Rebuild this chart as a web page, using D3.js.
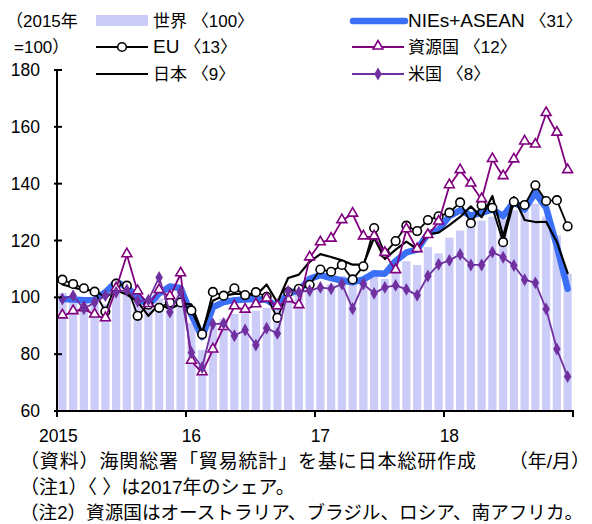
<!DOCTYPE html>
<html>
<head>
<meta charset="utf-8">
<script src="https://cdn.jsdelivr.net/npm/d3@7"></script>
<style>
  html, body { margin: 0; padding: 0; background: #fff; }
  svg { display: block; }
  text { font-family: "Liberation Sans", "Noto Sans CJK JP", sans-serif; fill: #000; }
</style>
</head>
<body>
<div id="chart"></div>
<script>
const width = 592;
const height = 524;

// 2015/1 .. 2018/12, monthly
const years = [2015, 2016, 2017, 2018];
const months = years.flatMap((y) => d3.range(1, 13).map((m) => `${y}-${m}`));
const yearLabels = ["2015", "16", "17", "18"];
const yTicks = [60, 80, 100, 120, 140, 160, 180];

const world = [101.5, 99, 99.5, 98.5, 97.5, 102, 102, 98.5, 97, 99.5, 100.5, 102,
  91, 81.5, 90, 92.5, 94.2, 94.8, 95.3, 96.3, 96, 102.2, 101.8, 102.6,
  103.5, 104.5, 107.5, 104.5, 106, 108.5, 106.5, 110.5, 112.7, 111.4, 117.7, 115.5,
  121, 123.5, 125.9, 127, 128.4, 127.7, 130.6, 130.6, 133, 128.4, 121.8, 108.3];
const nies = [99.4, 99.2, 99, 99.1, 101.8, 105.5, 103.6, 100, 97.3, 101.3, 103.8, 103.3,
  93.8, 86, 96.5, 98.3, 99, 99.2, 99.4, 99.1, 96.8, 101.4, 102.4, 106.5,
  107.8, 106.8, 105.9, 105.3, 106.3, 108.5, 108.3, 112.8, 115.8, 116.8, 122.4, 123.8,
  128.6, 130.6, 128.8, 129.7, 130.9, 128.6, 133.5, 131, 136.8, 131.5, 118, 103];
const eu = [106.2, 104.7, 103.2, 102, 95, 104.8, 104.1, 93.5, 97.4, 96.3, 98.2, 98.2,
  95.4, 87, 101.9, 100.6, 103.2, 100.8, 101.8, 100.2, 92.8, 101.8, 103, 104.4,
  109.8, 109, 111.4, 106.3, 110.9, 124.4, 115.5, 119.8, 125.2, 123.3, 127.2, 128.5,
  129.8, 133.4, 126.1, 132.4, 131.5, 119.4, 133.6, 132.5, 139.4, 133.9, 134.2, 125];
const japan = [104.5, 103.5, 102.5, 102.5, 100, 102.5, 101, 98.5, 93.5, 97.6, 95.9, 97.8,
  97.5, 87.6, 98.8, 100.6, 101.2, 101.2, 100.6, 104.5, 98.2, 106.8, 108, 112.5,
  115.2, 114.2, 113, 111.5, 111.5, 121, 113.5, 116.8, 119.6, 117, 122.2, 122.8,
  125.4, 128.3, 132, 128.2, 135.7, 121.5, 135.3, 127.2, 126.5, 126.6, 119.5, 108.5];
const shigen = [93.5, 95, 96, 93.8, 92.5, 103, 115, 102, 97.5, 102.4, 100.2, 108.3,
  77.5, 73.5, 81.5, 89.4, 96.7, 95.5, 97.4, 99.4, 96.7, 99.2, 97.1, 113.9,
  119.2, 120.5, 127, 129.3, 121.3, 121.3, 115.5, 109.4, 123.8, 116.8, 121.8, 126.5,
  139.3, 144.6, 139.9, 134.4, 148.5, 142.5, 148.4, 154.7, 153.6, 164.7, 157.8, 144.6];
const usa = [99.4, 100.6, 96, 98.2, 100.6, 101.8, 102.6, 98.6, 99, 107, 94.8, 102,
  80.6, 75.3, 90.6, 90.8, 86.5, 88.5, 83.2, 89.1, 87.3, 102.1, 101.8, 102.4,
  103.5, 103, 104.7, 96, 104.7, 101.4, 103.5, 104.2, 102.8, 100.7, 107.5, 111.6,
  113, 115.1, 111.4, 111.4, 115.9, 114.1, 111.2, 106.2, 105.1, 95.9, 81.8, 72.1];

const notes = [
  "（資料）海関総署「貿易統計」を基に日本総研作成",
  "（注1）〈 〉は2017年のシェア。",
  "（注2）資源国はオーストラリア、ブラジル、ロシア、南アフリカ。"
];

const BAR = "#ccccf8";
const BLUE = "#3b6ff5";
const PURPLE = "#800080";
const VIOLET = "#7030a0";

const margin = { left: 57, right: 19, top: 70, bottom: 113 };
const x0 = margin.left, x1 = width - margin.right;
const y0 = height - margin.bottom, y1 = margin.top;

const svg = d3.select("#chart").append("svg")
  .attr("width", width)
  .attr("height", height);

const x = d3.scaleBand().domain(months).range([x0, x1]).paddingInner(0.24).paddingOuter(0.12);
const y = d3.scaleLinear().domain([60, 180]).range([y0, y1]);
const cxm = (i) => x(months[i]) + x.bandwidth() / 2;

// bars: world
svg.append("g")
  .selectAll("rect")
  .data(world)
  .join("rect")
  .attr("x", (d, i) => x(months[i]))
  .attr("width", x.bandwidth())
  .attr("y", (d) => y(d))
  .attr("height", (d) => y0 - y(d))
  .attr("fill", BAR);

const line = d3.line().x((d, i) => cxm(i)).y((d) => y(d));

function addLine(data, color, w) {
  svg.append("path")
    .datum(data)
    .attr("d", line)
    .attr("fill", "none")
    .attr("stroke", color)
    .attr("stroke-width", w)
    .attr("stroke-linejoin", "round")
    .attr("stroke-linecap", "round");
}

addLine(nies, BLUE, 6.5);
addLine(japan, "#000", 2.2);
addLine(eu, "#000", 1.8);
svg.append("g").selectAll("circle")
  .data(eu).join("circle")
  .attr("cx", (d, i) => cxm(i)).attr("cy", (d) => y(d)).attr("r", 4.3)
  .attr("fill", "#fff").attr("stroke", "#000").attr("stroke-width", 1.6);

addLine(shigen, PURPLE, 1.8);
const tri = d3.symbol().type(d3.symbolTriangle).size(42);
svg.append("g").selectAll("path")
  .data(shigen).join("path")
  .attr("d", tri)
  .attr("transform", (d, i) => `translate(${cxm(i)},${y(d) - 0.8})`)
  .attr("fill", "#fff").attr("stroke", PURPLE).attr("stroke-width", 1.6);

addLine(usa, VIOLET, 1.8);
const dia = d3.symbol().type(d3.symbolDiamond).size(48);
svg.append("g").selectAll("path")
  .data(usa).join("path")
  .attr("d", dia)
  .attr("transform", (d, i) => `translate(${cxm(i)},${y(d)})`)
  .attr("fill", VIOLET);

// axes
const yAxis = svg.append("g").attr("transform", `translate(${x0},0)`)
  .call(d3.axisLeft(y).tickValues(yTicks).tickSize(0).tickPadding(17));
yAxis.select(".domain").remove();
yAxis.selectAll("text").style("font-size", "17.5px").style("font-family", "Liberation Sans, sans-serif");
svg.append("line").attr("x1", x0).attr("x2", x0).attr("y1", y1 - 1).attr("y2", y0 + 1)
  .attr("stroke", "#000").attr("stroke-width", 2);
svg.append("g").selectAll("line").data(yTicks).join("line")
  .attr("x1", x0 - 3).attr("x2", x0 + 5)
  .attr("y1", (d) => y(d)).attr("y2", (d) => y(d))
  .attr("stroke", "#000").attr("stroke-width", 2);

svg.append("line").attr("x1", x0 - 1).attr("x2", x1 + 1).attr("y1", y0).attr("y2", y0)
  .attr("stroke", "#000").attr("stroke-width", 2);
const yearTicks = [...years.map((yr) => x(`${yr}-1`) - x.step() * x.paddingOuter()), x1];
svg.append("g").selectAll("line").data(yearTicks).join("line")
  .attr("x1", (d) => d).attr("x2", (d) => d)
  .attr("y1", y0).attr("y2", y0 + 6)
  .attr("stroke", "#000").attr("stroke-width", 2);
svg.append("g").selectAll("text").data(yearLabels).join("text")
  .attr("x", (d, i) => cxm(i * 12) - (i === 0 ? 4 : 0))
  .attr("y", y0 + 31)
  .attr("text-anchor", "middle")
  .style("font-size", "17.5px")
  .text((d) => d);

// legend
const lg = svg.append("g").style("font-size", "17px");
lg.append("text").attr("x", 6).attr("y", 27).text("（2015年");
lg.append("text").attr("x", 14).attr("y", 53).text("=100）");

function legendText(xp, yp, latin, rest) {
  const t = lg.append("text").attr("x", xp).attr("y", yp);
  if (latin) t.append("tspan").style("font-size", "19px").text(latin);
  t.append("tspan").text(rest);
}

lg.append("rect").attr("x", 96).attr("y", 15).attr("width", 52).attr("height", 11).attr("fill", BAR);
legendText(153, 27, "", "世界 〈100〉");

lg.append("line").attr("x1", 96).attr("x2", 148).attr("y1", 47).attr("y2", 47).attr("stroke", "#000").attr("stroke-width", 1.8);
lg.append("circle").attr("cx", 122).attr("cy", 47).attr("r", 4.3).attr("fill", "#fff").attr("stroke", "#000").attr("stroke-width", 1.6);
legendText(153, 53, "EU", " 〈13〉");

lg.append("line").attr("x1", 96).attr("x2", 148).attr("y1", 74).attr("y2", 74).attr("stroke", "#000").attr("stroke-width", 2.2);
legendText(153, 80, "", "日本 〈9〉");

lg.append("line").attr("x1", 353).attr("x2", 405).attr("y1", 21).attr("y2", 21).attr("stroke", BLUE).attr("stroke-width", 6.5).attr("stroke-linecap", "round");
legendText(408, 27, "NIEs+ASEAN", " 〈31〉");

lg.append("line").attr("x1", 352).attr("x2", 404).attr("y1", 47).attr("y2", 47).attr("stroke", PURPLE).attr("stroke-width", 1.8);
lg.append("path").attr("d", tri).attr("transform", "translate(378,46.2)").attr("fill", "#fff").attr("stroke", PURPLE).attr("stroke-width", 1.6);
legendText(408, 53, "", "資源国 〈12〉");

lg.append("line").attr("x1", 352).attr("x2", 404).attr("y1", 74).attr("y2", 74).attr("stroke", VIOLET).attr("stroke-width", 1.8);
lg.append("path").attr("d", dia).attr("transform", "translate(378,74)").attr("fill", VIOLET);
legendText(408, 80, "", "米国 〈8〉");

// notes
const noteSize = [19, 19, 18.6];
const ng = svg.append("g");
ng.selectAll("text").data(notes).join("text")
  .attr("x", 20)
  .attr("y", (d, i) => 468 + i * 25.5)
  .style("font-size", (d, i) => `${noteSize[i]}px`)
  .each(function (d, i) {
    if (i === 0) d3.select(this).attr("textLength", 456).attr("lengthAdjust", "spacing");
  })
  .text((d) => d);
ng.append("text").attr("x", 590).attr("y", 468).style("font-size", "19px")
  .attr("text-anchor", "end").text("（年/月）");
</script>
</body>
</html>
